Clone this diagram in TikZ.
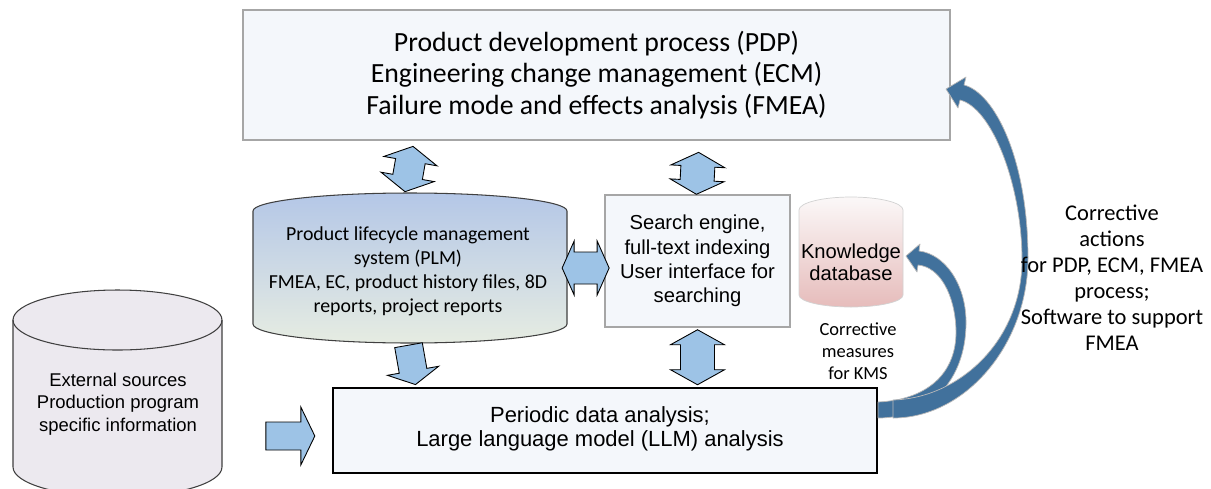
\documentclass[tikz,border=0pt]{standalone}
\usepackage{fontspec}
\setmainfont{Carlito}
\newfontfamily\arialf{Liberation Sans}
\usetikzlibrary{calc}
\definecolor{boxfill}{HTML}{F4F7FB}
\definecolor{boxline}{HTML}{A6A6A6}
\definecolor{arrowfill}{HTML}{9DC3E6}
\definecolor{darkarrow}{HTML}{41719C}
\definecolor{extfill}{HTML}{ECE9EF}
\definecolor{cylline}{HTML}{404040}
\definecolor{plmtop}{HTML}{B4C7E7}
\definecolor{plmbot}{HTML}{E6ECE2}
\definecolor{kdtop}{HTML}{FBF8F8}
\definecolor{kdbot}{HTML}{E6BCBB}
\tikzset{
  mainbox/.style={draw=boxline, fill=boxfill, line width=0.8pt, inner sep=0pt, align=center},
  blockarrow/.style={fill=arrowfill, draw=black, line width=0.5pt, line join=miter},
  curvedarrow/.style={fill=darkarrow, draw=gray!55, line width=0.4pt, line join=round},
  cylshape/.style={draw=cylline, line width=0.6pt},
  anchorbox/.style={inner sep=0pt, outer sep=0pt},
  lbl/.style={inner sep=0pt, align=center},
}
% double arrow: center, half length, head half width, shaft half width, head length, rotation
\newcommand\dblarrow[6]{%
  \begin{scope}[shift={#1}, rotate=#6]
    \filldraw[blockarrow] (0,#2) -- (#3,#2-#5) -- (#4,#2-#5) -- (#4,-#2+#5) -- (#3,-#2+#5)
      -- (0,-#2) -- (-#3,-#2+#5) -- (-#4,-#2+#5) -- (-#4,#2-#5) -- (-#3,#2-#5) -- cycle;
  \end{scope}}
% single arrow pointing down (before rotation)
\newcommand\sglarrow[6]{%
  \begin{scope}[shift={#1}, rotate=#6]
    \filldraw[blockarrow] (-#4,#2) -- (#4,#2) -- (#4,-#2+#5) -- (#3,-#2+#5) -- (0,-#2)
      -- (-#3,-#2+#5) -- (-#4,-#2+#5) -- cycle;
  \end{scope}}
\begin{document}
\begin{tikzpicture}[x=0.02cm,y=0.02cm]
\clip (0,0) rectangle (1211,-488);
\fill[white] (0,0) rectangle (1211,-488);

% ---- top box
\node[mainbox, minimum width=14.14cm, minimum height=2.6cm,
      font=\fontsize{15.8}{17.9}\selectfont] (top) at (596.5,-75)
  {Product development process (PDP)\\Engineering change management (ECM)\\Failure mode and effects analysis (FMEA)};

% ---- PLM cylinder
\shadedraw[cylshape, top color=plmtop, bottom color=plmbot]
  (253,-211) -- (253,-324) arc[start angle=180, end angle=360, x radius=157, y radius=19]
  -- (567,-211) arc[start angle=0, end angle=180, x radius=157, y radius=18] -- cycle;
\node[anchorbox, minimum width=6.28cm, minimum height=3cm] (plmcyl) at (410,-268) {};
\node[lbl, font=\fontsize{11.3}{13.6}\selectfont] (plm) at (408,-271)
  {Product lifecycle management\\system (PLM)\\FMEA, EC, product history files, 8D\\reports, project reports};

% ---- search box
\node[mainbox, minimum width=3.7cm, minimum height=2.64cm,
      font=\arialf\fontsize{11.5}{13.8}\selectfont] (search) at (697.5,-261)
  {Search engine,\\full-text indexing\\User interface for\\searching};

% ---- knowledge database cylinder
\shade[top color=kdtop, bottom color=kdbot]
  (799,-210) -- (799,-295) arc[start angle=180, end angle=360, x radius=52, y radius=12]
  -- (903,-210) arc[start angle=0, end angle=180, x radius=52, y radius=13] -- cycle;
\draw[gray!35, line width=0.4pt]
  (799,-210) -- (799,-295) arc[start angle=180, end angle=360, x radius=52, y radius=12]
  -- (903,-210) arc[start angle=0, end angle=180, x radius=52, y radius=13] -- cycle;
\node[anchorbox, minimum width=2.08cm, minimum height=2.2cm] (kdcyl) at (851,-252) {};
\node[lbl, font=\arialf\fontsize{11.5}{12.6}\selectfont] (kd) at (851,-262) {Knowledge\\database};

% ---- external sources cylinder
\filldraw[cylshape, fill=extfill]
  (13,-320) -- (13,-467) arc[start angle=180, end angle=360, x radius=104.5, y radius=30]
  -- (222,-320) arc[start angle=0, end angle=180, x radius=104.5, y radius=30] -- cycle;
\draw[cylshape] (13,-320) arc[start angle=180, end angle=360, x radius=104.5, y radius=30];
\node[anchorbox, minimum width=4.18cm, minimum height=4cm] (extcyl) at (117.5,-390) {};
\node[lbl, font=\arialf\fontsize{10.5}{12.8}\selectfont] (ext) at (118,-404)
  {External sources\\Production program\\specific information};

% ---- LLM box
\node[mainbox, draw=black, line width=1.4pt, minimum width=10.88cm, minimum height=1.7cm] (llm) at (605,-430.5) {};
\node[lbl, font=\arialf\fontsize{12.5}{13.6}\selectfont] (llmtext) at (600,-429)
  {Periodic data analysis;\\Large language model (LLM) analysis};

% ---- light blue block arrows
\dblarrow{($(plmcyl.north)+(-1,24)$)}{23}{27}{15}{15}{-10}
\dblarrow{($(search.north)+(0,21)$)}{21}{27}{17}{14}{-3}
\dblarrow{($(plmcyl.east)!0.5!(search.west |- plmcyl.east)$)}{23.5}{27}{16}{12}{90}
\sglarrow{($(plmcyl.south)!0.5!(plmcyl.south |- llm.north)+(2,0)$)}{20}{26}{14}{14}{10}
\dblarrow{($(search.south)!0.5!(search.south |- llm.north)$)}{27.5}{27}{17}{15}{0}
\sglarrow{($(llm.west)+(-41.5,-5.5)$)}{24.5}{29}{14}{14}{90}

% ---- dark curved arrows
\filldraw[curvedarrow]
  (878,-402) .. controls (925,-400) and (957,-375) .. (956,-330)
  .. controls (955,-295) and (940,-267) .. (918,-265)
  -- (917,-272) -- (906,-256) -- (920,-244) -- (919,-251)
  .. controls (945,-254) and (967,-285) .. (966,-325)
  .. controls (965,-380) and (930,-418) .. (878,-418) -- cycle;
\filldraw[curvedarrow]
  (893,-400) .. controls (960,-398) and (1022,-340) .. (1022,-260)
  .. controls (1022,-185) and (992,-108) .. (960,-100)
  -- (958,-108) -- (946,-89) -- (966,-77) -- (964,-85)
  .. controls (995,-93) and (1028,-160) .. (1028,-258)
  .. controls (1028,-345) and (965,-418) .. (893,-418) -- cycle;

% ---- labels (drawn over the arrows)
\node[lbl, font=\fontsize{10.5}{12.6}\selectfont] (kms) at (858,-351) {Corrective\\measures\\for KMS};
\node[lbl, font=\fontsize{12.8}{14.8}\selectfont] (ca) at (1112,-278)
  {Corrective\\actions\\for PDP, ECM, FMEA\\process;\\Software to support\\FMEA};
\end{tikzpicture}
\end{document}
